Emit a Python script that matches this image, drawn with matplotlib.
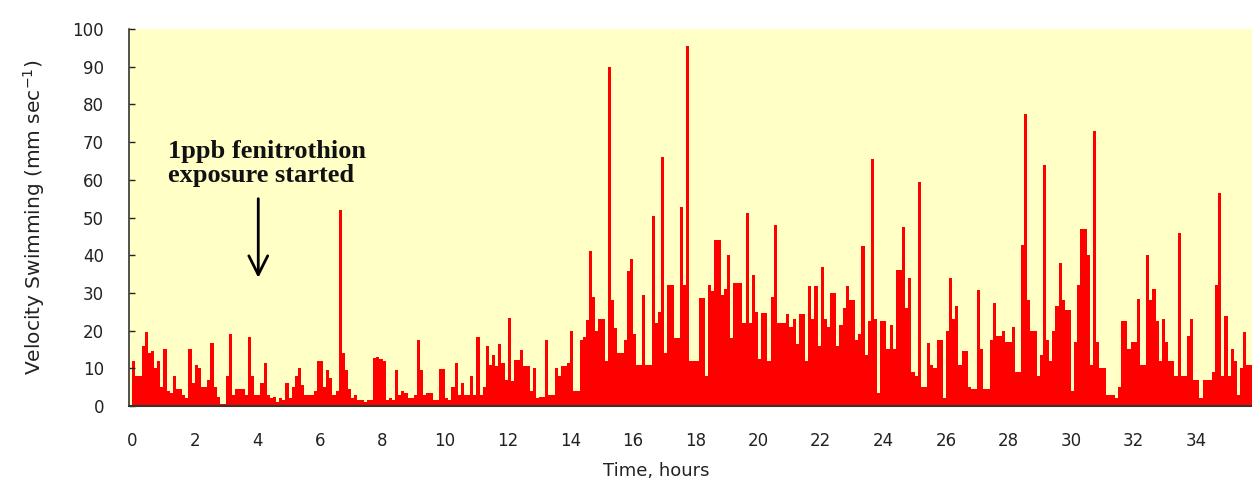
import numpy as np
import matplotlib.pyplot as plt

plt.rcParams['font.family'] = ['DejaVu Sans']
plt.rcParams['mathtext.default'] = 'regular'

# swimming velocity, one reading per 0.1 h (mm/s)
step = 0.1
vel_00_06 = [12, 8, 8, 16, 19.5, 14, 14.5, 10, 12, 5,
             15, 4, 3.5, 8, 4.5, 4.5, 3, 2, 15, 6,
             11, 10, 5, 5, 7, 16.7, 5, 2.5, 0.5, 0.5,
             8, 19, 3, 4.5, 4.5, 4.5, 3, 18.4, 8, 3,
             3, 6, 11.5, 3, 2, 2.5, 1, 2, 1.5, 6,
             2, 5, 8, 10, 5.5, 3, 3, 3, 4, 12]
vel_06_12 = [12, 5, 9.6, 7.5, 3, 4, 52, 14, 9.5, 4.5,
             2, 3, 1.5, 1.5, 1, 1.5, 1.5, 12.7, 13, 12.5,
             12, 1.5, 2, 1.5, 9.6, 3, 4, 3.5, 2, 2,
             3, 17.4, 9.5, 3, 3.5, 3.5, 1.5, 1.5, 9.8, 9.8,
             2, 1.5, 5, 11.5, 3, 6, 3, 3, 8, 3,
             18.4, 3, 5, 16, 11, 13.5, 10.5, 16.5, 11.5, 7]
vel_12_18 = [23.3, 6.5, 12.2, 12.2, 14.9, 10.5, 10.5, 4, 10, 2,
             2.5, 2.5, 17.5, 3, 3, 10, 8, 10.5, 10.5, 11.4,
             20, 4, 4, 17.5, 18.4, 22.9, 41, 29, 20, 23,
             23, 12, 90, 28, 20.7, 14, 14, 17.5, 35.7, 39,
             19, 11, 11, 29.5, 11, 11, 50.5, 22, 25, 66,
             14, 32, 32, 18, 18, 52.8, 32, 95.4, 12, 12]
vel_18_24 = [12, 28.7, 28.7, 8, 32, 30.5, 44, 44, 29.5, 31,
             40, 18, 32.6, 32.6, 32.6, 22, 51.2, 22, 34.8, 25,
             12.5, 24.6, 24.6, 12, 29, 47.9, 22, 22, 22, 24.5,
             21, 23, 16.5, 24.5, 24.5, 12, 31.7, 23, 31.7, 16,
             37, 23, 21, 30, 30, 16, 21.5, 26, 31.7, 28,
             28, 17.5, 19, 42.4, 13.5, 22.6, 65.4, 23, 3.4, 22.5]
vel_24_30 = [22.5, 15, 21.5, 15, 36, 36, 47.6, 26, 34, 9,
             8, 59.4, 5, 5, 16.7, 11, 10, 17.5, 17.5, 2,
             20, 34, 23, 26.5, 11, 14.5, 14.5, 5, 4.5, 4.5,
             30.9, 15, 4.5, 4.5, 17.5, 27.4, 18.5, 18.5, 20, 17,
             17, 21, 9, 9, 42.8, 77.4, 28, 20, 20, 8,
             13.5, 64, 17.5, 12, 20, 26.5, 38, 28, 25.5, 25.5]
vel_30_36 = [4, 17, 32, 47, 47, 40, 11, 73, 17, 10,
             10, 3, 3, 3, 2, 5, 22.5, 22.5, 15, 17,
             17, 28.5, 11, 11, 40, 28, 31, 22.5, 12, 23,
             17, 12, 12, 8, 46, 8, 8, 18.5, 23, 7,
             7, 2, 7, 7, 7, 9, 32, 56.5, 8, 24,
             8, 15, 12, 3, 10, 19.5, 11, 11]

velocity = np.array(vel_00_06 + vel_06_12 + vel_12_18 + vel_18_24 + vel_24_30 + vel_30_36)
hours = np.arange(len(velocity)) * step

fig = plt.figure(figsize=(12.52, 4.86), dpi=100)
ax = fig.add_axes([129 / 1252, 1 - 406 / 486, 1 - 129 / 1252, 377 / 486])
ax.set_facecolor('#FFFFC6')

ax.bar(hours, velocity, width=step, align='edge', color='#FF0000', linewidth=0)

ax.set_xlim(-0.1, 35.78)
ax.set_ylim(0, 100)
ax.set_xticks(np.arange(0, 35, 2))
ax.set_yticks(np.arange(0, 101, 10))
ax.tick_params(axis='x', length=0, pad=19, labelsize=12, colors='#222222')
ax.tick_params(axis='y', direction='in', length=4, width=1, pad=18, labelsize=12,
               colors='#222222')
for side in ['top', 'right']:
    ax.spines[side].set_visible(False)
ax.spines['left'].set_color('#333333')
ax.spines['bottom'].set_color('#333333')
ax.spines['left'].set_linewidth(1.2)
ax.spines['bottom'].set_linewidth(1.5)

ax.set_ylabel('Velocity Swimming (mm sec$^{-1}$)', fontsize=14.5, color='#222222')
ax.yaxis.set_label_coords(-0.073, 0.5)
fig.text(656 / 1252, 1 - 471 / 486, 'Time, hours', ha='center', va='center',
         fontsize=13, color='#222222')

ax.text(1.15, 64.3, '1ppb fenitrothion\nexposure started', family='Liberation Serif',
        fontsize=19, fontweight='bold', linespacing=1.05, va='center', ha='left',
        color='#111111')
ax.annotate('', xy=(4.03, 34), xytext=(4.03, 55),
            arrowprops=dict(arrowstyle='->', color='black', lw=2, mutation_scale=34,
                            shrinkA=0, shrinkB=0))

fig.savefig('out.png', dpi=100, facecolor='white')
